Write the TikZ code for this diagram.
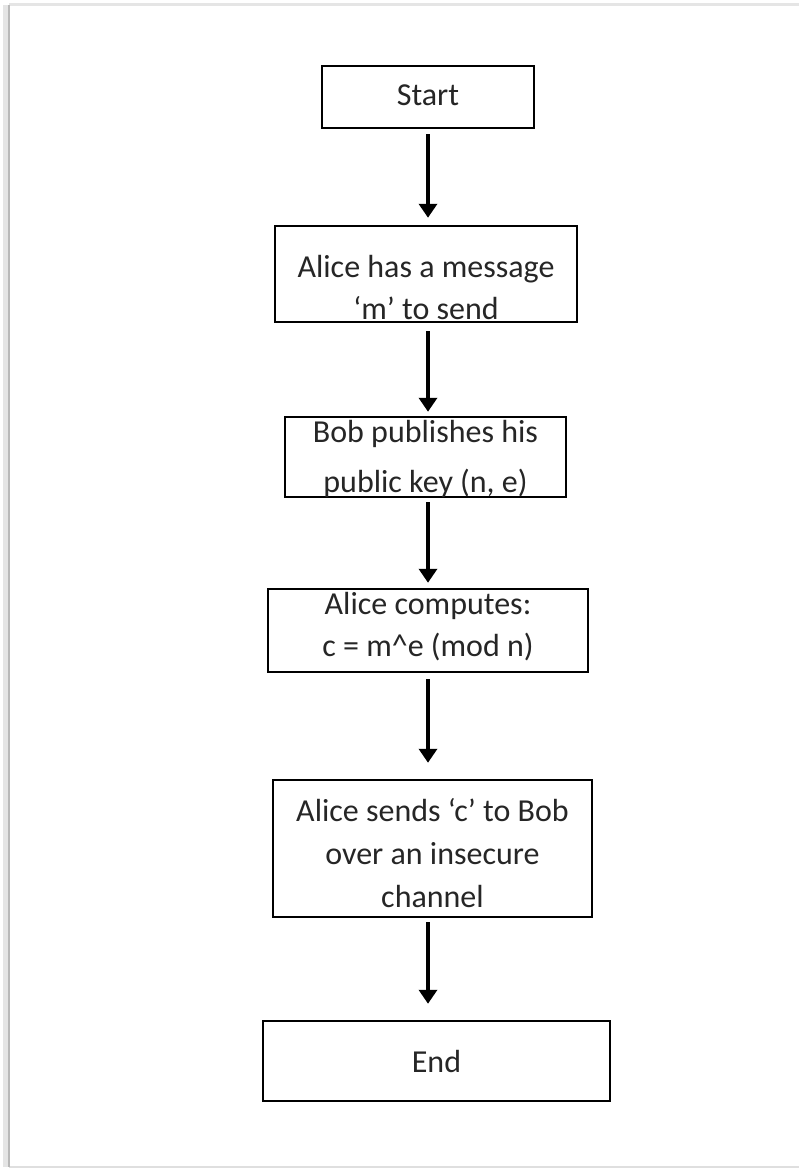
\documentclass[tikz,border=0pt]{standalone}
\usepackage{fontspec}
\setmainfont{Carlito}
\usetikzlibrary{arrows.meta}
\newcommand{\boxtext}[5]{\parbox[c][#2pt][t]{#1pt}{\centering\fontsize{32}{#4}\selectfont\rule{0pt}{#3pt}#5\par}}
\tikzset{
  flowbox/.style={draw=black, line width=2.5pt, inner sep=0pt, text=black!85},
  flowarrow/.style={line width=4pt, -{Triangle[width=18pt,length=14pt]}},
}
\begin{document}
\begin{tikzpicture}[x=1pt,y=-1pt]
\useasboundingbox (0,0) rectangle (798,1169);
% page frame
\fill[white] (9,5) rectangle (800,1167);
\draw[gray!20, line width=3pt] (9,5) -- (800,5);
\draw[gray!25, line width=2pt] (9,1167) -- (800,1167);
\draw[gray!20, line width=6pt] (6,5) -- (6,1167);
\draw[gray!55, line width=2.5pt] (9,5) -- (9,1167);
\coordinate (ax) at (428,0);
% boxes
\node[flowbox] (start)   at (428,97)    {\boxtext{212}{62}{40}{40}{Start}};
\node[flowbox] (msg)     at (426,274)   {\boxtext{302}{96}{51}{42}{Alice has a message\\‘m’ to send}};
\node[flowbox] (pubkey)  at (425.5,457) {\boxtext{281}{80}{25}{50}{Bob publishes his\\public key (n, e)}};
\node[flowbox] (compute) at (428,630.5) {\boxtext{320}{83}{25}{42}{Alice computes:\\c = m\textasciicircum e (mod n)}};
\node[flowbox] (sendc)   at (432.5,848.5) {\boxtext{319}{137}{41}{43}{Alice sends ‘c’ to Bob\\over an insecure\\channel}};
\node[flowbox] (finish)  at (436.5,1061) {\boxtext{347}{80}{51}{40}{End}};
% arrows
\draw[flowarrow, shorten <=5pt, shorten >=7pt]  (start.south -| ax)   -- (msg.north -| ax);
\draw[flowarrow, shorten <=8pt, shorten >=4pt]  (msg.south -| ax)     -- (pubkey.north -| ax);
\draw[flowarrow, shorten <=4pt, shorten >=5pt]  (pubkey.south -| ax)  -- (compute.north -| ax);
\draw[flowarrow, shorten <=6pt, shorten >=16pt] (compute.south -| ax) -- (sendc.north -| ax);
\draw[flowarrow, shorten <=4pt, shorten >=16pt] (sendc.south -| ax)   -- (finish.north -| ax);
\end{tikzpicture}
\end{document}
